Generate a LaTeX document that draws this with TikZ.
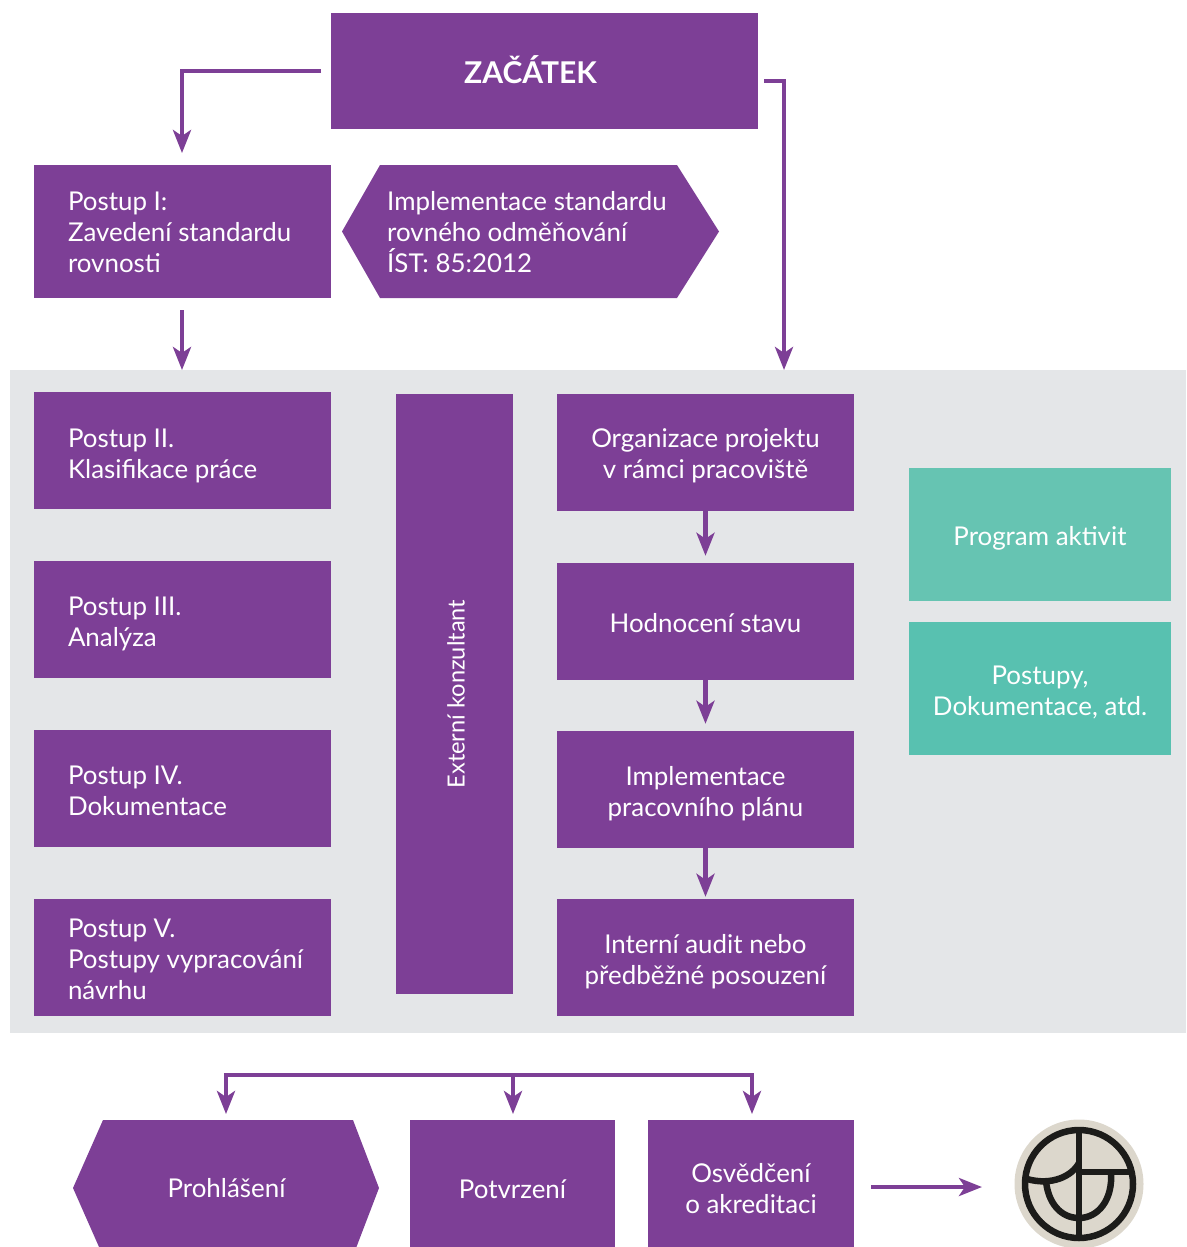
\documentclass[tikz,border=0pt]{standalone}
\usepackage{fontspec}
\setmainfont{Lato}
\usetikzlibrary{arrows.meta,calc}
\definecolor{pur}{HTML}{7D3F96}
\definecolor{panel}{HTML}{E4E6E8}
\definecolor{tealA}{HTML}{66C4B2}
\definecolor{tealB}{HTML}{58C1B0}
\definecolor{logoBg}{HTML}{DCD7CC}
\definecolor{logoInk}{HTML}{1C1C1A}
\newcommand{\ind}{\hspace*{34pt}}
\newcommand{\dn}[1]{\rule{0pt}{\dimexpr 19pt+#1pt\relax}}
\tikzset{
  x=1pt,y=-1pt,
  boxbase/.style={fill=pur,text=white,inner sep=0pt,font=\fontsize{25.9}{31}\selectfont,align=flush center,anchor=center},
  leftbox/.style={boxbase,minimum width=297pt,minimum height=117pt,text width=297pt,align=flush left},
  rightbox/.style={boxbase,minimum width=297pt,minimum height=117pt,text width=297pt},
  tealbox/.style={boxbase,minimum width=262pt,minimum height=133pt,text width=262pt},
  btmbox/.style={boxbase,minimum height=136pt},
  hextext/.style={inner sep=0pt,text=white,font=\fontsize{25.9}{31}\selectfont,anchor=center},
  conn/.style={draw=pur,line width=4.4pt,-{Stealth[length=23pt,width=18pt,inset=6pt]}},
  busline/.style={draw=pur,line width=4.4pt},
  logoline/.style={draw=logoInk,line width=6.5pt},
}
\begin{document}
\begin{tikzpicture}
\useasboundingbox (0,0) rectangle (1186,1247);
\begin{scope}
\clip (0,0) rectangle (1186,1247);
% grey panel
\fill[panel] (10,370) rectangle (1186,1033);
% top
\node[boxbase,minimum width=427pt,minimum height=116pt,font=\fontsize{30}{36}\selectfont\bfseries] (start) at (544.5,71) {\raisebox{2pt}{ZAČÁTEK}\hspace{28pt}};
\node[leftbox,minimum height=133pt] (p1) at (182.5,231.5) {\dn{2}\ind Postup I:\\\ind Zavedení standardu\\\ind rovnosti};
\fill[pur] (342,231.5) -- (380,165) -- (677,165) -- (719,231.5) -- (677,298) -- (380,298) -- cycle;
\node[hextext,align=flush left,anchor=west] (impl) at (387,232.5) {Implementace standardu\\rovného odměňování\\ÍST: 85:2012};
% left column
\node[leftbox] (p2) at (182.5,450.5) {\dn{10}\ind Postup II.\\\ind Klasifikace práce};
\node[leftbox] (p3) at (182.5,619.5) {\dn{8}\ind Postup III.\\\ind Analýza};
\node[leftbox] (p4) at (182.5,788.5) {\dn{4}\ind Postup IV.\\\ind Dokumentace};
\node[leftbox] (p5) at (182.5,957.5) {\dn{4}\ind Postup V.\\\ind Postupy vypracování\\\ind návrhu};
% consultant
\node[boxbase,minimum width=117pt,minimum height=600pt] (ext) at (454.5,694) {};
\node[hextext,rotate=90,font=\fontsize{23.6}{28}\selectfont] (extt) at (456,694) {Externí konzultant};
% right column
\node[rightbox] (r1) at (705.5,452) {\dn{8}Organizace projektu\\v rámci pracoviště};
\node[rightbox] (r2) at (705.5,621.5) {\dn{4}Hodnocení stavu};
\node[rightbox] (r3) at (705.5,789.5) {\dn{8}Implementace\\pracovního plánu};
\node[rightbox] (r4) at (705.5,957.5) {\dn{8}Interní audit nebo\\předběžné posouzení};
% teal
\node[tealbox,fill=tealA] (t1) at (1040,534.5) {\dn{8}Program aktivit};
\node[tealbox,fill=tealB] (t2) at (1040,688.5) {\dn{8}Postupy,\\Dokumentace, atd.};
% bottom
\fill[pur] (73,1188) -- (103,1120) -- (353,1120) -- (379,1188) -- (353,1256) -- (103,1256) -- cycle;
\node[hextext] (prohl) at (226.5,1188) {Prohlášení};
\node[btmbox,minimum width=205pt,text width=205pt] (potv) at (512.5,1188) {\dn{2}Potvrzení};
\node[btmbox,minimum width=206pt,text width=206pt] (osv) at (751,1188) {\dn{2}Osvědčení\\o akreditaci};
% logo
\fill[logoBg] (1079,1184) circle[radius=64.5];
\coordinate (logoC) at (1079,1184);
\draw[logoline] (logoC) circle[radius=54];
\draw[logoline] (1079,1130) -- (1079,1238);
\draw[logoline] (1079,1172) -- (1132,1172);
\draw[logoline] (1111,1172) .. controls (1113,1200) and (1098,1218) .. (1079,1218) .. controls (1060,1218) and (1048,1202) .. (1046,1181);
\draw[logoline] (1027,1179) .. controls (1052,1186) and (1072,1176) .. (1079,1163);
% connectors
\coordinate (a1) at (321,71);
\coordinate (a2) at (182,153);
\draw[conn] (a1) -| (a2);
\coordinate (a3) at (764,81);
\coordinate (a4) at (784,370);
\draw[conn] (a3) -| (a4);
\coordinate (a5) at (182,310);
\coordinate (a6) at (182,370);
\draw[conn] (a5) -- (a6);
\draw[conn] (r1.south) -- ([yshift=7pt]r2.north);
\draw[conn] (r2.south) -- ([yshift=7pt]r3.north);
\draw[conn] (r3.south) -- ([yshift=2pt]r4.north);
\coordinate (b1) at (226,1075);
\coordinate (b2) at (513,1075);
\coordinate (b3) at (752,1075);
\draw[busline] (223.8,1075) -- (754.2,1075);
\draw[conn] (b1) -- (226,1114);
\draw[conn] (b2) -- (513,1114);
\draw[conn] (b3) -- (752,1114);
\coordinate (c1) at (871,1187);
\coordinate (c2) at (982,1187);
\draw[conn] (c1) -- (c2);
\end{scope}
\end{tikzpicture}
\end{document}
